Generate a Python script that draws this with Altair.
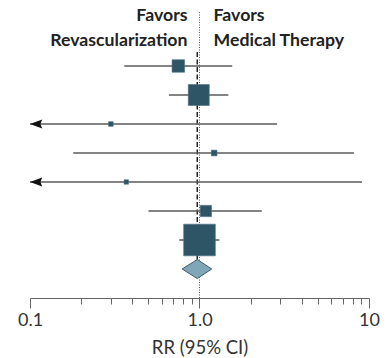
import altair as alt
import pandas as pd

# ---- data ----
rows = [1, 2, 3, 4, 5, 6, 7]
rr = [0.75, 0.99, 0.30, 1.22, 0.37, 1.09, 1.00]
ci_low = [0.36, 0.66, 0.06, 0.18, 0.05, 0.50, 0.76]
ci_high = [1.56, 1.48, 2.87, 8.15, 9.08, 2.33, 1.31]
weights = [8.7, 24.5, 1.2, 1.8, 1.1, 7.1, 55.7]

pooled_row = 8
pooled_rr = 0.97
pooled_low = 0.79
pooled_high = 1.18

tick_values = [0.1, 0.2, 0.3, 0.4, 0.5, 0.6, 0.7, 0.8, 0.9,
               1, 2, 3, 4, 5, 6, 7, 8, 9, 10]
major_ticks = [0.1, 1, 10]
left_header = ["Favors", "Revascularization"]
right_header = ["Favors", "Medical Therapy"]
x_title = "RR (95% CI)"

FONT = "Lato"
SQ = "#2d5566"

studies = pd.DataFrame({"row": rows, "rr": rr, "lo": ci_low, "hi": ci_high, "w": weights})
arrows = studies[studies["lo"] < 0.1].assign(tip=0.1)

half = 0.33
diamond = pd.DataFrame({
    "x": [pooled_low, pooled_rr, pooled_high],
    "y": [pooled_row, pooled_row - half, pooled_row],
    "y2": [pooled_row, pooled_row + half, pooled_row],
})

xscale = alt.Scale(type="log", domain=[0.1, 10], clamp=True)
yscale = alt.Scale(domain=[-0.724, 9], reverse=True)

major_test = " || ".join(f"datum.value == {v}" for v in major_ticks)
xaxis = alt.Axis(
    values=tick_values,
    labelExpr="datum.value == 1 ? '1.0' : (datum.value == 0.1 ? '0.1' : (datum.value == 10 ? '10' : ''))",
    tickSize={"condition": {"test": major_test, "value": 10}, "value": 6},
    labelFlush=False, labelOverlap=False, grid=False,
    labelFont=FONT, labelFontSize=18, labelColor="#333", labelPadding=3,
    title=x_title, titleFont=FONT, titleFontSize=18.5, titleFontWeight="normal",
    titleColor="#333", titlePadding=9,
    domainColor="#666", tickColor="#666", domainWidth=1, tickWidth=1,
)

X = lambda f: alt.X(f, scale=xscale, axis=xaxis)
Y = lambda f: alt.Y(f, scale=yscale, axis=None)

dotted = alt.Chart(pd.DataFrame({"x": [1.0], "y": [-0.86], "y2": [9]})).mark_rule(
    color="#555", strokeDash=[1, 1.5], strokeWidth=1
).encode(x=X("x:Q"), y=Y("y:Q"), y2="y2:Q")

dashed = alt.Chart(pd.DataFrame({"x": [pooled_rr], "y": [0.52], "y2": [pooled_row - half]})).mark_rule(
    color="#222", strokeDash=[5, 2.5], strokeWidth=1.5
).encode(x=X("x:Q"), y=Y("y:Q"), y2="y2:Q")

ci = alt.Chart(studies).mark_rule(color="#5a5a5a", strokeWidth=1.5).encode(
    x=X("lo:Q"), x2="hi:Q", y=Y("row:Q")
)

arrow_shape = "M0,0L2,-0.72L1.7,0L2,0.72Z"
arr = alt.Chart(arrows).mark_point(
    shape=arrow_shape, filled=True, color="#111", opacity=1, size=150
).encode(x=X("tip:Q"), y=Y("row:Q"))

squares = alt.Chart(studies).mark_square(color=SQ, opacity=1, stroke="#4d7282", strokeWidth=0.6).encode(
    x=X("rr:Q"), y=Y("row:Q"),
    size=alt.Size("w:Q", scale=alt.Scale(domain=[0, 100], range=[0, 1800]), legend=None),
)

dia = alt.Chart(diamond).mark_area(
    orient="vertical", fill="#80a7b7", stroke="#3d5d6b", strokeWidth=1, opacity=1
).encode(x=X("x:Q"), y=Y("y:Q"), y2="y2:Q")

hdr = pd.DataFrame({"x": [1.0], "y": [-0.55]})
txt_left = alt.Chart(hdr).mark_text(
    text=left_header, align="right", baseline="alphabetic", dx=-12, lineHeight=25,
    font=FONT, fontSize=17.7, fontWeight="bold", color="#222"
).encode(x=X("x:Q"), y=Y("y:Q"))
txt_right = alt.Chart(hdr).mark_text(
    text=right_header, align="left", baseline="alphabetic", dx=14, lineHeight=25,
    font=FONT, fontSize=17.7, fontWeight="bold", color="#222"
).encode(x=X("x:Q"), y=Y("y:Q"))

chart = alt.layer(
    dotted, dashed, ci, arr, squares, dia, txt_left, txt_right
).properties(
    width=339, height=282,
    background="white",
    autosize=alt.AutoSizeParams(type="none"),
    padding={"left": 22, "top": 8, "right": 15, "bottom": 60},
).configure_view(stroke=None)

chart.save("out.html", embed_options={"renderer": "svg", "actions": False})
